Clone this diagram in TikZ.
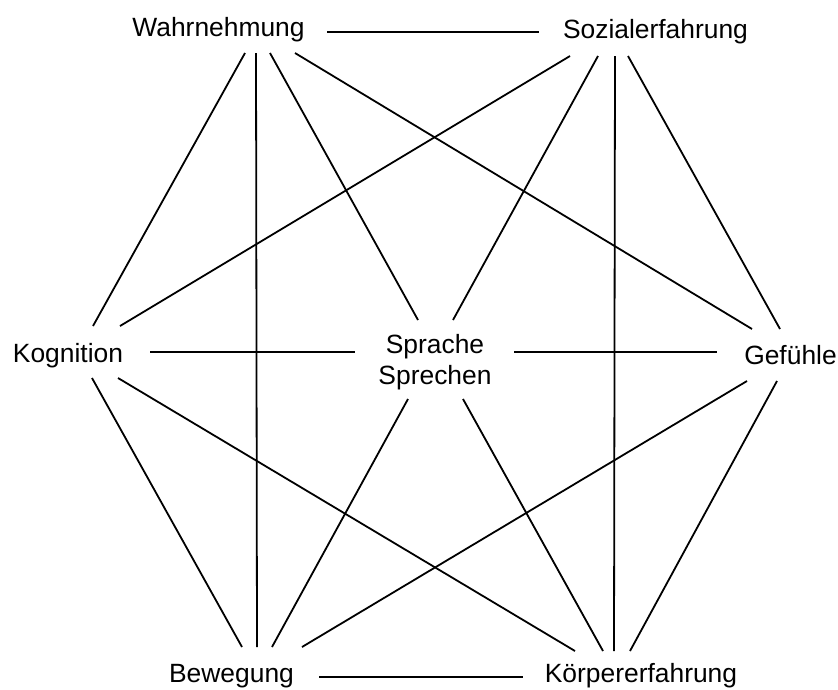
\documentclass[tikz,border=0pt]{standalone}
\usepackage{fontspec}
\setmainfont{Liberation Sans}
\begin{document}
\begin{tikzpicture}[x=1pt,y=-1pt,every node/.style={font=\fontsize{26.4}{31}\selectfont,inner sep=0pt},
    link/.style={line width=1.8pt}]
  \useasboundingbox (0,0) rectangle (838,689);
  % labels
  \node[anchor=base] (wahr) at (218.5,36) {Wahrnehmung};
  \node[anchor=base] (soz) at (655.5,38) {Sozialerfahrung};
  \node[anchor=base] (kog) at (68,362) {Kognition};
  \node[align=center] (spr) at (435,362.6) {Sprache\\Sprechen};
  \node[anchor=base] (gef) at (790.5,364) {Gefühle};
  \node[anchor=base] (bew) at (231.5,682) {Bewegung};
  \node[anchor=base] (koe) at (641,682) {Körpererfahrung};
  % line ends beside the labels
  \foreach \n/\x/\y in {wahr-soz/327/32, soz-wahr/539/32,
      wahr-kog/245/53, kog-wahr/93/326, wahr-bew/256/53, bew-wahr/257/647,
      wahr-spr/270/53, spr-wahr/418/320, wahr-gef/295/53, gef-wahr/752/329,
      soz-kog/570/56, kog-soz/120/326, soz-spr/598/56, spr-soz/453/320,
      soz-koe/615/56, koe-soz/614/651, soz-gef/628/56, gef-soz/780/329,
      kog-spr/150/352, spr-kog/355/352, kog-bew/92/378, bew-kog/242/647,
      kog-koe/118/378, koe-kog/575/651, spr-gef/514/352, gef-spr/717/352,
      spr-bew/408/399, bew-spr/272/647, spr-koe/463/399, koe-spr/603/651,
      gef-bew/747/381, bew-gef/302/647, gef-koe/777/381, koe-gef/630/651,
      bew-koe/319/677, koe-bew/523/677}
    \coordinate (\n) at (\x,\y);
  \foreach \a/\b in {wahr/soz,wahr/kog,wahr/bew,wahr/spr,wahr/gef,
      soz/kog,soz/spr,soz/koe,soz/gef,kog/spr,kog/bew,kog/koe,
      spr/gef,spr/bew,spr/koe,gef/bew,gef/koe,bew/koe}
    \draw[link] (\a-\b) -- (\b-\a);
\end{tikzpicture}
\end{document}
